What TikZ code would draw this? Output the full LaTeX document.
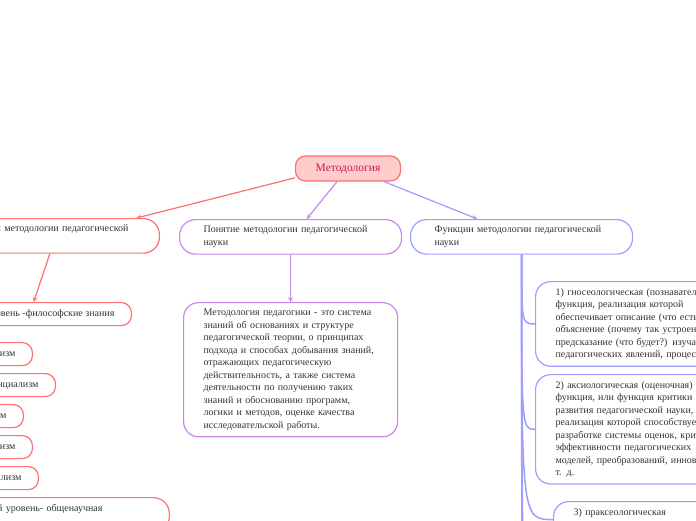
\documentclass[tikz,border=0pt]{standalone}
\usepackage{fontspec}
\setmainfont{Liberation Serif}

\definecolor{ink}{HTML}{333333}
\definecolor{rootfill}{HTML}{FFCCCC}
\definecolor{rootink}{HTML}{D0184A}
\definecolor{lvlred}{HTML}{FF6F6F}
\definecolor{midviolet}{HTML}{C987EA}
\definecolor{fnblue}{HTML}{9E9EFF}

\begin{document}
\begin{tikzpicture}[x=1pt, y=-1pt, >=stealth,
    topbox/.style={rounded corners=16, line width=1.2pt, text width=174, inner xsep=24, inner ysep=6.5, align=left, text=ink, font=\fontsize{10}{12.5}\selectfont},
    textbox/.style={rounded corners=15, line width=1.2pt, text width=174, inner xsep=20, inner ysep=6.5, align=left, text=ink, font=\fontsize{10}{12.5}\selectfont},
    leafbox/.style={rounded corners=10, draw=lvlred, line width=1.2pt, inner xsep=17, inner ysep=6.5, text height=7.5pt, text depth=2.5pt, text=ink, font=\fontsize{10}{12.5}\selectfont, anchor=north east}]
    \useasboundingbox (0,0) rectangle (696,520);
    \clip (0,0) rectangle (696,520);

    % root
    \node[rounded corners=10, draw=lvlred, fill=rootfill, line width=1.2pt, text=rootink, minimum width=105, minimum height=25, font=\fontsize{11.5}{13}\selectfont] (root) at (348,168.5) {Методология};

    % first level
    \node[topbox, draw=lvlred, anchor=north east, text width=166] (lvl) at (160,218) {Уровни методологии педагогической\\науки};
    \node[topbox, draw=midviolet, anchor=north west] (mid) at (179,219) {Понятие методологии педагогической\\науки};
    \node[topbox, draw=fnblue, anchor=north west] (fn) at (410,219) {Функции методологии педагогической\\науки};

    \draw[->, line width=1.2pt, lvlred] (root.190) -- (lvl.12);
    \draw[->, line width=1.2pt, midviolet] (root.230) -- (mid.48);
    \draw[->, line width=1.2pt, fnblue] (root.-20) -- (fn.158);

    % levels
    \node[leafbox] (fil) at (132,302) {Философский уровень -философские знания};
    \draw[->, line width=1.2pt, lvlred] (lvl.262) -- (fil.40);

    \node[leafbox] (p1) at (33,342) {Неопозитивизм};
    \node[leafbox] (p2) at (56,373) {Экзистенциализм};
    \node[leafbox] (p3) at (24,404) {Неотомизм};
    \node[leafbox] (p4) at (33,435) {Бихевиоризм};
    \node[leafbox] (p5) at (39,466) {Материализм};
    \node[topbox, draw=lvlred, anchor=north east, text width=204] (gen) at (170,497) {Общенаучный уровень- общенаучная\\методология};

    % definition
    \node[textbox, draw=midviolet, anchor=north west] (def) at (183,302) {Методология педагогики - это система\\
        знаний об основаниях и структуре\\
        педагогической теории, о принципах\\
        подхода и способах добывания знаний,\\
        отражающих педагогическую\\
        действительность, а также система\\
        деятельности по получению таких\\
        знаний и обоснованию программ,\\
        логики и методов, оценке качества\\
        исследовательской работы.};
    \draw[->, line width=1.2pt, midviolet] (mid.south) -- (def.north);

    % functions
    \node[textbox, draw=fnblue, anchor=north west, text width=220] (f1) at (535,281) {1) гносеологическая (познавательная)\\
        функция, реализация которой\\
        обеспечивает описание (что есть?),\\
        объяснение (почему так устроено?) и\\
        предсказание (что будет?) изучаемых\\
        педагогических явлений, процессов;};
    \node[textbox, draw=fnblue, anchor=north west, text width=220] (f2) at (535,374) {2) аксиологическая (оценочная)\\
        функция, или функция критики\\
        развития педагогической науки,\\
        реализация которой способствует\\
        разработке системы оценок, критериев\\
        эффективности педагогических\\
        моделей, преобразований, инноваций и\\
        т. д.};
    \node[textbox, draw=fnblue, anchor=north west, text width=220, text depth=16pt] (f3) at (553,501) {3) праксеологическая};
    \coordinate (f4) at (553,640);
    \coordinate (f5) at (553,760);

    \draw[fnblue, line width=1.5pt] (fn.south) .. controls (fn.south |- f1.west) .. (f1.west);
    \draw[fnblue, line width=1.5pt] (fn.south) .. controls (fn.south |- f2.west) .. (f2.west);
    \draw[fnblue, line width=1.5pt] (fn.south) .. controls (fn.south |- f3.west) .. (f3.west);
    \draw[fnblue, line width=1.5pt] (fn.south) .. controls (fn.south |- f4) .. (f4);
    \draw[fnblue, line width=1.5pt] (fn.south) .. controls (fn.south |- f5) .. (f5);
\end{tikzpicture}
\end{document}
